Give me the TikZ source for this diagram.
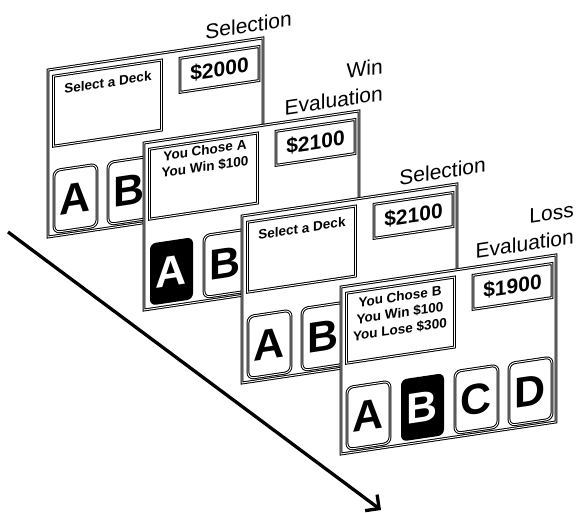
\documentclass[tikz,border=0pt]{standalone}
\usepackage{fontspec}
\setmainfont{Liberation Sans}
\usepackage{tikz}
\usetikzlibrary{arrows.meta}

\begin{document}
\begin{tikzpicture}[x=1pt,y=-1pt,
  tilt/.style={yslant=0.149,transform shape},
  rim/.style={draw,double,line width=1pt,double distance=0.9pt},
  screen/.style={rim,fill=white,minimum width=215pt,minimum height=167pt,inner sep=0pt},
  msgbox/.style={rim,minimum width=108pt,minimum height=70pt,inner sep=0pt},
  msgtext/.style={anchor=north,align=center,inner sep=0pt,font=\fontsize{13.5}{16.5}\selectfont\bfseries},
  cashbox/.style={rim,minimum width=79pt,minimum height=34pt,inner sep=0pt,font=\fontsize{21}{21}\selectfont\bfseries},
  deckshape/.style={rounded corners=6pt,minimum width=43pt,minimum height=62pt,inner sep=0pt,font=\fontsize{43}{43}\selectfont\bfseries},
  deck/.style={rim,fill=white,deckshape},
  picked/.style={fill=black,text=white,deckshape},
  phase/.style={anchor=east,align=right,inner sep=0pt,font=\fontsize{21}{27}\selectfont},
  timeline/.style={line width=3.3pt,-{Straight Barb[length=10pt,width=20pt]}}]
\useasboundingbox (0,0) rectangle (576,513);

\coordinate (tstart) at (8,232);
\coordinate (tend) at (381,510);
\draw[timeline] (tstart) -- (tend);

\begin{scope}[shift={(48,70)},tilt]
\node[screen] (scr1) at (107.5,83.5) {};
\node[msgbox] (msg1) at (59.5,42) {};
\node[msgtext] (txt1) at (60,16) {Select a Deck};
\node[cashbox] (cash1) at (171.5,25) {\$2000};
\node[deck] (d1a) at (27.5,132.5) {A};
\node[deck] (d1b) at (81.5,132.5) {B};
\node[phase] (ph1) at (244,-15) {Selection};
\end{scope}

\begin{scope}[shift={(144,143)},tilt]
\node[screen] (scr2) at (107.5,83.5) {};
\node[msgbox] (msg2) at (59.5,42) {};
\node[msgtext] (txt2) at (61,11) {You Chose A\\You Win \$100};
\node[cashbox] (cash2) at (171.5,25) {\$2100};
\node[picked] (d2a) at (27.5,132.5) {A};
\node[deck] (d2b) at (81.5,132.5) {B};
\node[phase] (ph2) at (239,-28) {Win\\Evaluation};
\end{scope}

\begin{scope}[shift={(242,216)},tilt]
\node[screen] (scr3) at (107.5,83.5) {};
\node[msgbox] (msg3) at (59.5,42) {};
\node[msgtext] (txt3) at (60,16) {Select a Deck};
\node[cashbox] (cash3) at (171.5,25) {\$2100};
\node[deck] (d3a) at (27.5,132.5) {A};
\node[deck] (d3b) at (81.5,132.5) {B};
\node[phase] (ph3) at (244,-15) {Selection};
\end{scope}

\begin{scope}[shift={(341,287)},tilt]
\node[screen] (scr4) at (107.5,83.5) {};
\node[msgbox] (msg4) at (59.5,42) {};
\node[msgtext] (txt4) at (59,13) {You Chose B\\You Win \$100\\You Lose \$300};
\node[cashbox] (cash4) at (171.5,25) {\$1900};
\node[deck] (d4a) at (27.5,132.5) {A};
\node[picked] (d4b) at (81.5,132.5) {B};
\node[deck] (d4c) at (135.5,132.5) {C};
\node[deck] (d4d) at (189.5,132.5) {D};
\node[phase] (ph4) at (233,-29) {Loss\\Evaluation};
\end{scope}
\end{tikzpicture}
\end{document}
